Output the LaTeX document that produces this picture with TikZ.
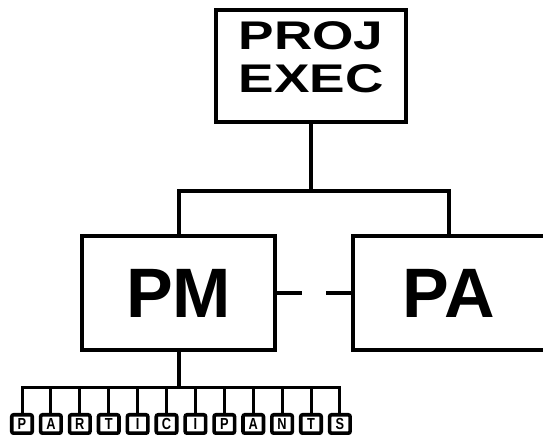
\documentclass[tikz,border=0pt]{standalone}
\usepackage{fontspec}
\setmainfont{Liberation Sans}
\newfontfamily\widefont[FakeStretch=1.33]{Liberation Sans}
\newfontfamily\slimfont[FakeStretch=0.8]{Liberation Sans}
\usetikzlibrary{positioning}
\tikzset{
  orgbox/.style={
    draw=black,
    line width=4pt,
    align=center,
    inner sep=0pt,
    minimum width=193pt,
    minimum height=114pt,
    font=\bfseries\fontsize{70}{80}\selectfont
  },
  execbox/.style={
    orgbox,
    minimum width=190pt,
    minimum height=112pt,
    text depth=17pt,
    font=\widefont\bfseries\fontsize{40}{43}\selectfont
  },
  letterbox/.style={
    draw=black,
    fill=white,
    line width=3.6pt,
    rounded corners=2pt,
    inner sep=0pt,
    minimum width=20.5pt,
    minimum height=18.5pt,
    font=\slimfont\bfseries\fontsize{16}{16}\selectfont
  },
  orgline/.style={line width=4pt,draw=black},
  memberline/.style={line width=3pt,draw=black}
}

\begin{document}
\begin{tikzpicture}[x=1pt,y=-1pt]
  \useasboundingbox (0,0) rectangle (543,435);
  \node[execbox] (exec) at (311,66) {PROJ\\EXEC};
  \node[orgbox] (pm) at (178.5,293) {PM};
  \node[orgbox] (pa) at (449,293) {PA};
  \draw[orgline] (exec.south) -- ++(0,67) coordinate (fork);
  \draw[orgline] (pm.north) |- (fork) -| (pa.north);
  \draw[orgline,dash pattern=on 25pt off 24pt] (pm.east) -- (pa.west);
  \foreach \ch [count=\i] in {P,A,R,T,I,C,I,P,A,N,T,S}
    \node[letterbox] (p\i) at ({22+28.9*(\i-1)},424) {\ch};
  \draw[orgline] (pm.south) -- ++(0,35) coordinate (split);
  \draw[memberline] (p1.north) |- (split) -| (p12.north);
  \foreach \i in {2,...,11}
    \draw[memberline] (p\i.north) -- (p\i.north |- split);
\end{tikzpicture}
\end{document}
